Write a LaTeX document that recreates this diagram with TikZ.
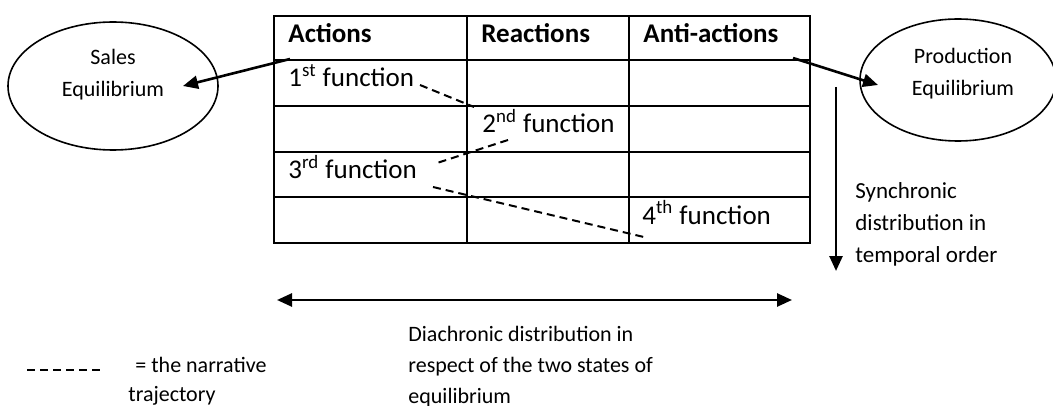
\documentclass[tikz,border=0pt]{standalone}
\usepackage{fontspec}
\setmainfont{Carlito}
\usetikzlibrary{arrows.meta,shapes.geometric}
\begin{document}
\begin{tikzpicture}[x=0.5pt,y=-0.5pt,
  tbl/.style={line width=1pt},
  hdr/.style={anchor=base west,inner sep=0pt,font=\fontsize{13.5}{16}\selectfont\bfseries},
  cell/.style={anchor=base west,inner sep=0pt,font=\fontsize{13.5}{16}\selectfont},
  eqm/.style={draw,ellipse,line width=0.8pt,inner sep=0pt},
  eqtext/.style={anchor=base,inner sep=0pt,align=center,font=\fontsize{11}{16}\selectfont},
  arr/.style={line width=1.3pt,-{Triangle[length=7.5pt,width=6.5pt]}},
  darr/.style={line width=1.3pt,{Triangle[length=7.5pt,width=6.5pt]}-{Triangle[length=7.5pt,width=6.5pt]}},
  traj/.style={line width=1pt,dash pattern=on 4pt off 2.5pt},
  lbl/.style={anchor=base west,inner sep=0pt,align=left,font=\fontsize{11}{15.5}\selectfont}]
\useasboundingbox (0,0) rectangle (1053,406);

% table grid
\draw[tbl] (274,16) rectangle (810,243);
\foreach \x in {467,629} \draw[tbl] (\x,16) -- (\x,243);
\foreach \y in {60,106,152,197} \draw[tbl] (274,\y) -- (810,\y);

% headers
\node[hdr] (hact) at (288,43) {Actions};
\node[hdr] (hreact) at (481,43) {Reactions};
\node[hdr] (hanti) at (643,43) {Anti-actions};

% functions
\node[cell] (f1) at (288,87) {1\textsuperscript{st} function};
\node[cell] (f2) at (482,133) {2\textsuperscript{nd} function};
\node[cell] (f3) at (288,179) {3\textsuperscript{rd} function};
\node[cell] (f4) at (642,224) {4\textsuperscript{th} function};

% ellipses
\node[eqm,minimum width=105pt,minimum height=64pt] (sales) at (113,86) {};
\node[eqtext] (salestxt) at (113,97) {Sales\\Equilibrium};
\node[eqm,minimum width=98pt,minimum height=61pt] (prod) at (958,80) {};
\node[eqtext] (prodtxt) at (963,96) {Production\\Equilibrium};

% arrows to equilibria
\coordinate (sa1) at (290,59);
\coordinate (sa2) at (183,86);
\draw[arr] (sa1) -- (sa2);
\coordinate (pa1) at (793,58);
\coordinate (pa2) at (878,85);
\draw[arr] (pa1) -- (pa2);

% narrative trajectory
\coordinate (t1a) at (420,85);
\coordinate (t1b) at (474,107);
\coordinate (t2a) at (508,140);
\coordinate (t2b) at (437,163);
\coordinate (t3a) at (433,187);
\coordinate (t3b) at (648,238);
\draw[traj] (t1a) -- (t1b);
\draw[traj] (t2a) -- (t2b);
\draw[traj] (t3a) -- (t3b);

% synchronic
\coordinate (s1) at (836,87);
\coordinate (s2) at (836,271);
\draw[arr] (s1) -- (s2);
\node[lbl,font=\fontsize{11.5}{16}\selectfont] (synch) at (855,262) {Synchronic\\distribution in\\temporal order};

% diachronic
\coordinate (d1) at (277,300);
\coordinate (d2) at (792,300);
\draw[darr] (d1) -- (d2);
\node[lbl] (diach) at (408,403) {Diachronic distribution in\\respect of the two states of\\equilibrium};

% legend
\coordinate (l1) at (27,370);
\coordinate (l2) at (100,370);
\draw[traj] (l1) -- (l2);
\node[lbl,font=\fontsize{11}{14.5}\selectfont] (legend) at (128,401) {\hspace{3.5pt}= the narrative\\trajectory};
\end{tikzpicture}
\end{document}
